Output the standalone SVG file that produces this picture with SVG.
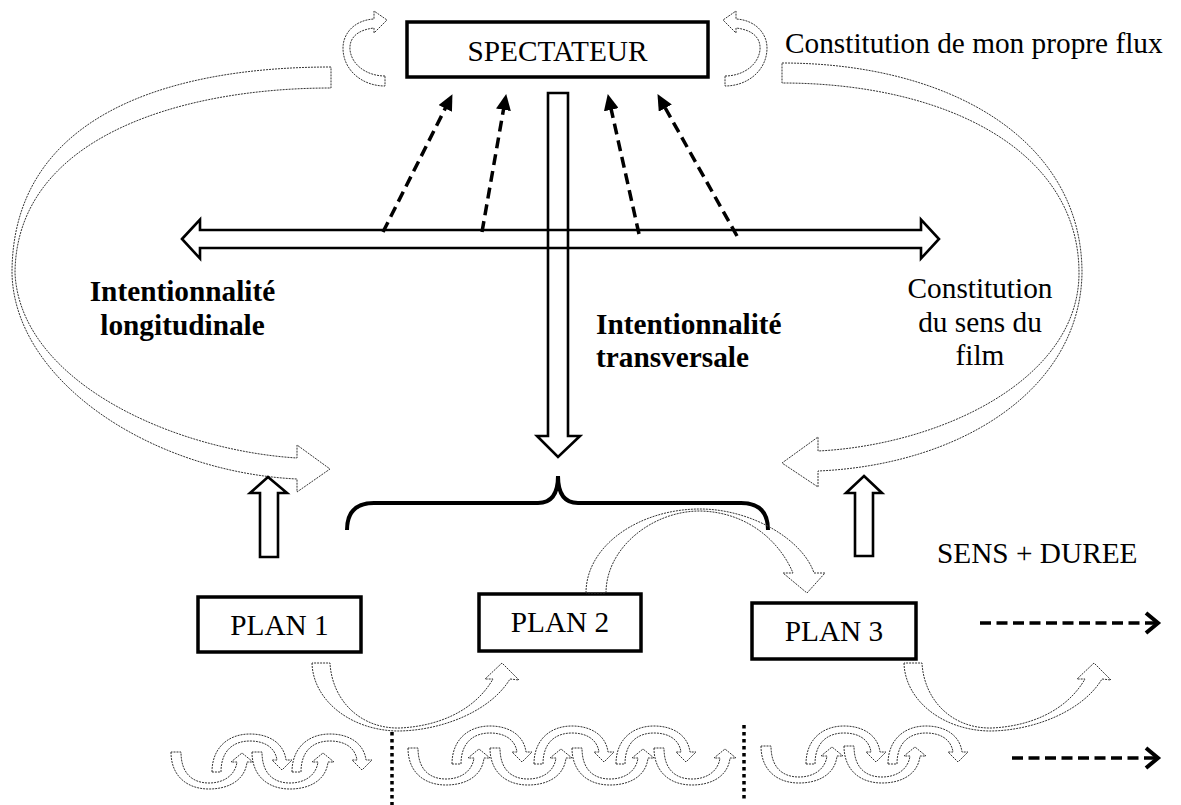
<svg xmlns="http://www.w3.org/2000/svg" width="1181" height="805" viewBox="0 0 1181 805">
<style>
text{font-family:"Liberation Serif","Times New Roman",serif;font-size:29.3px;fill:#000}
.b{font-weight:bold}
.box{fill:#fff;stroke:#000;stroke-width:3.5}
.blk{fill:none;stroke:#000;stroke-width:2.6;stroke-linejoin:miter}
.dot{fill:none;stroke:#333;stroke-width:1;stroke-dasharray:2 1}
.dash{fill:none;stroke:#000;stroke-width:3.5;stroke-dasharray:11 6}
.hd{fill:none;stroke:#000;stroke-width:3.5;stroke-dasharray:11 5.5}
.sep{fill:none;stroke:#000;stroke-width:3.5;stroke-dasharray:3.5 3.5}
.brace{fill:none;stroke:#000;stroke-width:4}
</style>
<defs>
<marker id="tri" markerUnits="userSpaceOnUse" markerWidth="17" markerHeight="15" refX="9" refY="7.5" orient="auto"><path d="M0,0 L16,7.5 L0,15 Z" fill="#000"/></marker>
<marker id="chev" markerUnits="userSpaceOnUse" markerWidth="18" markerHeight="26" refX="14" refY="12" orient="auto"><path d="M2,2 L14,12 L2,22" fill="none" stroke="#000" stroke-width="4"/></marker>
<path id="u" d="M0,0 C0,24 16,37 38,37 C58,37 74,28 76,10 L82,10 L71,1 L60,10 L66,10 C64,24 52,31 38,31 C22,31 10,22 10,0 Z"/>
<path id="n" d="M0,0 C0,-24 16,-38 38,-38 C58,-38 72,-28 74,-12 L80,-12 L70,-2 L60,-12 L65,-12 C63,-25 52,-31 38,-31 C22,-31 9,-22 9,0 Z"/>
</defs>

<g id="spectateur">
<rect class="box" x="407" y="22" width="301" height="55"/>
<text x="557.5" y="61" text-anchor="middle">SPECTATEUR</text>
</g>

<g id="plan1">
<rect class="box" x="198" y="597" width="163" height="55"/>
<text x="279.5" y="635" text-anchor="middle">PLAN 1</text>
</g>
<g id="plan2">
<rect class="box" x="479" y="594" width="162" height="57"/>
<text x="560" y="632" text-anchor="middle">PLAN 2</text>
</g>
<g id="plan3">
<rect class="box" x="752" y="603" width="164" height="56"/>
<text x="834" y="641" text-anchor="middle">PLAN 3</text>
</g>

<g id="labels">
<text x="785" y="53">Constitution de mon propre flux</text>
<text class="b" x="182.5" y="301" text-anchor="middle">Intentionnalité</text>
<text class="b" x="182.5" y="335" text-anchor="middle">longitudinale</text>
<text class="b" x="596" y="334">Intentionnalité</text>
<text class="b" x="596" y="367">transversale</text>
<text x="980" y="298" text-anchor="middle">Constitution</text>
<text x="980" y="332" text-anchor="middle">du sens du</text>
<text x="980" y="365" text-anchor="middle">film</text>
<text x="937" y="563">SENS + DUREE</text>
</g>

<g id="connectors">
<path class="dot" d="M385,76 C368,76 352,66 350,50 C349,38 357,30 374,28 L374,33 L387,20 L374,11 L374,19 C355,20 343,33 343,48 C343,70 362,86 385,86 Z"/>
<path class="dot" transform="translate(1110,0) scale(-1,1)" d="M385,76 C368,76 352,66 350,50 C349,38 357,30 374,28 L374,33 L387,20 L374,11 L374,19 C355,20 343,33 343,48 C343,70 362,86 385,86 Z"/>

<path class="dot" d="M331,67 C160,67 12,120 12,273 C14,380 150,472 297,479 L297,492 L330,469 L297,445 L297,458 C170,450 20,380 15,273 C16,140 175,88 331,88 Z"/>
<path class="dot" d="M782,63 C950,63 1082,140 1082,273 C1080,390 960,465 818,471 L818,487 L782,463 L818,437 L818,451 C940,445 1079,380 1079,273 C1079,150 945,83 782,83 Z"/>

<path class="blk" d="M182,239 L200,219.5 L200,230 L921,230 L921,219.5 L939,239 L921,258.5 L921,248 L200,248 L200,258.5 Z"/>
<path class="blk" d="M548,93 L568,93 L568,436 L580,436 L558,457 L537,436 L548,436 Z"/>
<path class="blk" d="M268,477 L287,493 L278,493 L278,557 L260,557 L260,493 L250,493 Z"/>
<path class="blk" d="M864,476 L882,493 L873,493 L873,556 L855,556 L855,493 L846,493 Z"/>

<line class="dash" x1="383" y1="232" x2="449.3" y2="100.4" marker-end="url(#tri)"/>
<line class="dash" x1="482" y1="232" x2="505" y2="100.9" marker-end="url(#tri)"/>
<line class="dash" x1="639" y1="234" x2="609.3" y2="100.9" marker-end="url(#tri)"/>
<line class="dash" x1="737" y1="236" x2="660.9" y2="100.2" marker-end="url(#tri)"/>

<path class="brace" d="M347,530 Q347,503 374,503 L538,503 Q558,503 558,476 Q558,503 578,503 L741,503 Q768,503 768,530"/>

<path class="dot" d="M586,593 C586,545 640,509 700,509 C752,509 803,540 814,573 L825,573 L807,593 L783,573 L793,573 C780,542 748,512 700,511 C652,511 606,548 606,593 Z"/>
<path class="dot" d="M312,663 C313,700 350,730 397,731 C440,731 490,712 510,679 L519,680 L502,663 L485,679 L493,679 C475,710 440,726 400,728 C360,729 332,700 330,663 Z"/>
<path class="dot" transform="translate(592,0)" d="M312,663 C313,700 350,730 397,731 C440,731 490,712 510,679 L519,680 L502,663 L485,679 L493,679 C475,710 440,726 400,728 C360,729 332,700 330,663 Z"/>

<line class="hd" x1="980" y1="623" x2="1158" y2="623" marker-end="url(#chev)"/>
<line class="hd" x1="1012" y1="758" x2="1158" y2="758" marker-end="url(#chev)"/>

<line class="sep" x1="392" y1="732" x2="392" y2="805"/>
<line class="sep" x1="744" y1="725" x2="744" y2="801"/>

<use class="dot" href="#u" x="171" y="752"/>
<use class="dot" href="#u" x="252" y="752"/>
<use class="dot" href="#n" x="212" y="772"/>
<use class="dot" href="#n" x="292" y="772"/>

<use class="dot" href="#u" x="408" y="748"/>
<use class="dot" href="#u" x="490" y="748"/>
<use class="dot" href="#u" x="572" y="748"/>
<use class="dot" href="#u" x="654" y="748"/>
<use class="dot" href="#n" x="452" y="764"/>
<use class="dot" href="#n" x="534" y="764"/>
<use class="dot" href="#n" x="616" y="764"/>

<use class="dot" href="#u" x="761" y="746"/>
<use class="dot" href="#u" x="844" y="746"/>
<use class="dot" href="#n" x="806" y="764"/>
<use class="dot" href="#n" x="888" y="764"/>
</g>
</svg>
